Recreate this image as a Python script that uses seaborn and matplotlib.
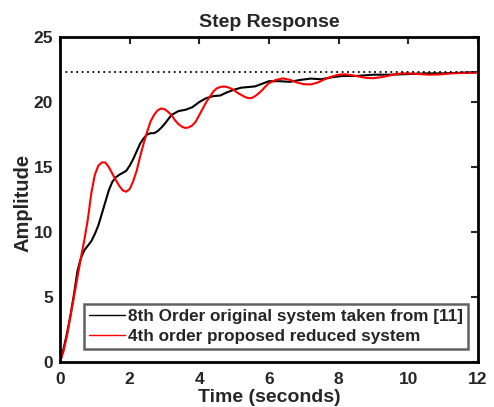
import matplotlib
matplotlib.use("Agg")
import matplotlib.pyplot as plt
import seaborn as sns
import pandas as pd

# ---------- data ----------
t_orig = [0, 0.1, 0.2, 0.3, 0.4, 0.5, 0.6, 0.7, 0.8, 0.9, 1.0, 1.1, 1.2, 1.3, 1.4,
          1.5, 1.6, 1.7, 1.8, 1.9, 2.0, 2.1, 2.2, 2.3, 2.4, 2.5, 2.6, 2.7, 2.8, 2.9,
          3.0, 3.2, 3.4, 3.6, 3.8, 4.0, 4.2, 4.4, 4.6, 4.8, 5.0, 5.2, 5.4, 5.6, 5.8,
          6.0, 6.3, 6.6, 6.9, 7.2, 7.5, 7.8, 8.1, 8.5, 9.0, 9.5, 10.0, 10.5, 11.0,
          11.5, 12.0]
y_orig = [0, 1.0, 2.2, 3.6, 5.2, 7.0, 8.0, 8.6, 8.95, 9.3, 9.85, 10.5, 11.4, 12.3, 13.2,
          13.85, 14.2, 14.4, 14.55, 14.7, 15.1, 15.6, 16.2, 16.8, 17.2, 17.5, 17.6, 17.6,
          17.75, 18.0, 18.3, 19.0, 19.3, 19.4, 19.6, 20.0, 20.3, 20.45, 20.5, 20.75,
          20.95, 21.1, 21.15, 21.2, 21.4, 21.6, 21.6, 21.55, 21.7, 21.8, 21.75, 21.9,
          22.0, 22.0, 22.1, 22.1, 22.15, 22.2, 22.2, 22.25, 22.3]

t_red = [0, 0.1, 0.2, 0.3, 0.4, 0.5, 0.6, 0.7, 0.8, 0.9, 1.0, 1.1, 1.2, 1.3, 1.4, 1.5,
         1.6, 1.7, 1.8, 1.9, 2.0, 2.1, 2.2, 2.3, 2.4, 2.5, 2.6, 2.7, 2.8, 2.9, 3.0, 3.1,
         3.2, 3.3, 3.4, 3.5, 3.6, 3.7, 3.8, 3.9, 4.0, 4.1, 4.2, 4.3, 4.4, 4.5, 4.6, 4.7,
         4.8, 4.9, 5.0, 5.1, 5.2, 5.3, 5.4, 5.5, 5.6, 5.7, 5.8, 5.9, 6.0, 6.2, 6.4, 6.6,
         6.8, 7.0, 7.2, 7.4, 7.6, 7.8, 8.0, 8.2, 8.4, 8.6, 8.8, 9.0, 9.2, 9.4, 9.6, 9.8,
         10.0, 10.3, 10.6, 10.9, 11.2, 11.5, 12.0]
y_red = [0, 0.8, 2.0, 3.5, 5.0, 6.5, 8.0, 9.4, 11.0, 13.0, 14.4, 15.1, 15.35, 15.35, 15.0,
         14.5, 14.0, 13.55, 13.2, 13.1, 13.3, 13.9, 14.7, 15.8, 16.8, 17.7, 18.5, 19.0,
         19.35, 19.5, 19.45, 19.25, 19.0, 18.6, 18.3, 18.1, 18.0, 18.05, 18.2, 18.5, 19.0,
         19.5, 20.0, 20.4, 20.8, 21.05, 21.15, 21.2, 21.15, 21.05, 20.9, 20.7, 20.55, 20.4,
         20.3, 20.3, 20.45, 20.65, 20.9, 21.2, 21.45, 21.7, 21.82, 21.7, 21.5, 21.37, 21.35,
         21.5, 21.75, 21.95, 22.1, 22.13, 22.05, 21.95, 21.85, 21.83, 21.9, 22.0, 22.12,
         22.2, 22.2, 22.15, 22.1, 22.12, 22.2, 22.23, 22.25]

final_value = 22.29

lbl_orig = "8th Order original system taken from [11]"
lbl_red = "4th order proposed reduced system"

df = pd.concat([
    pd.DataFrame({"t": t_orig, "y": y_orig, "sys": lbl_orig}),
    pd.DataFrame({"t": t_red, "y": y_red, "sys": lbl_red}),
])

sns.set_style("white")
plt.rcParams["font.family"] = ["Liberation Sans", "DejaVu Sans"]
plt.rcParams["font.weight"] = "bold"

fig = plt.figure(figsize=(4.94, 4.07), dpi=100)
ax = fig.add_axes([0.1215, 0.1106, 0.8461, 0.7985])

sns.lineplot(data=df, x="t", y="y", hue="sys", sort=False,
             palette={lbl_orig: "black", lbl_red: "#ff0000"},
             linewidth=1.5, ax=ax, estimator=None)
ax.axhline(final_value, color="black", linestyle=(0, (1, 2)), linewidth=1.3)

ax.set_xlim(0, 12)
ax.set_ylim(0, 25)
ax.set_xticks(range(0, 13, 2))
ax.set_yticks(range(0, 26, 5))
ax.tick_params(direction="in", length=5, width=1.5, top=True, right=True,
               labelsize=12.5)
ax.tick_params(axis="x", pad=7.5)
ax.tick_params(axis="y", pad=5)
for lab in ax.get_xticklabels() + ax.get_yticklabels():
    lab.set_fontweight("bold")
for sp in ax.spines.values():
    sp.set_linewidth(2)
    sp.set_color("black")

# x label sits right at the bottom edge, as in the reference
ax.set_xlabel("Time (seconds)", fontsize=14, fontweight="bold", va="bottom")
ax.xaxis.set_label_coords(0.5, -0.136)
ax.set_ylabel("Amplitude", fontsize=14.5, fontweight="bold")
ax.yaxis.set_label_coords(-0.066, 0.49)
ax.set_title("Step Response", fontsize=14, fontweight="bold", pad=7)

leg = ax.legend(loc="lower right", bbox_to_anchor=(0.976, 0.04), fontsize=12.3,
                frameon=True, fancybox=False, handlelength=2.1,
                borderpad=0.3, labelspacing=0.3, handletextpad=0.15,
                borderaxespad=0)
leg.get_frame().set_edgecolor("#3a3a3a")
leg.get_frame().set_linewidth(1.8)
for line in leg.get_lines():
    line.set_linewidth(1.0)
for txt in leg.get_texts():
    txt.set_fontweight("bold")

fig.savefig("out.png", dpi=100)
